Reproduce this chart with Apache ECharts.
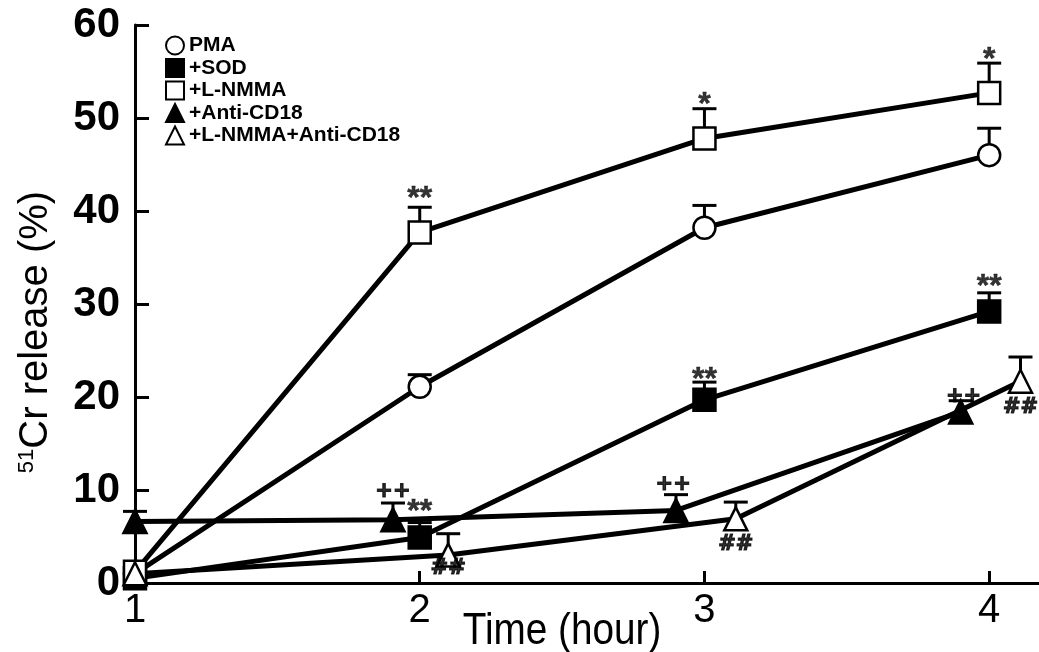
<!DOCTYPE html>
<html><head><meta charset="utf-8">
<script src="https://cdn.jsdelivr.net/npm/echarts@6/dist/echarts.min.js"></script>
<style>html,body{margin:0;padding:0;background:#fff}#c{width:1039px;height:652px}</style>
</head><body><div id="c"></div>
<script>
// ---- data ----
const seriesNames = ['PMA', '+SOD', '+L-NMMA', '+Anti-CD18', '+L-NMMA+Anti-CD18'];
// [time, value, error-bar top]
const pma      = [[1, 1.0, 1.0], [2, 21.1, 22.4], [3, 38.2, 40.6], [4, 46.0, 48.9]];
const sod      = [[1, 0.5, 0.5], [2, 4.9, 6.5], [3, 19.7, 21.6], [4, 29.2, 31.2]];
const lnmma    = [[1, 1.2, 1.2], [2, 37.7, 40.4], [3, 47.8, 51.0], [4, 52.7, 55.9]];
const antiCD18 = [[1, 6.6, 7.7], [1.906, 6.8, 8.6], [2.9, 7.8, 9.5], [3.9, 18.4, 19.6]];
const combo    = [[1, 1.0, 1.0], [2.1, 3.0, 5.3], [3.11, 6.9, 8.7], [4.11, 21.7, 24.3]];
const yTicks = [0, 10, 20, 30, 40, 50, 60];
const xTickLabels = [1, 2, 3, 4];
// significance marks: [time, value, text]
const marks = [
  [2.0, 41.8, '**'], [3.0, 51.9, '*'], [4.0, 56.8, '*'],
  [2.0, 8.2, '**'], [3.0, 22.3, '**'], [4.0, 32.3, '**'],
  [1.906, 9.8, '++'], [2.89, 10.6, '++'], [3.91, 20.1, '++'],
  [2.1, 1.6, '##'], [3.11, 4.1, '##'], [4.11, 18.9, '##']
];

const sets = [pma, sod, lnmma, antiCD18, combo];
const symbols = ['circle', 'rect', 'rect', 'triangle', 'triangle'];
const fills = ['#fff', '#000', '#fff', '#000', '#fff'];
const sizes = [22, 22, 22, 23, 23];

const chart = echarts.init(document.getElementById('c'), null, {renderer: 'canvas'});
const series = [];
sets.forEach((d, i) => {
  series.push({
    name: seriesNames[i], type: 'custom', z: 1,
    data: d.map(p => [p[0], p[1], p[2]]),
    renderItem: function (params, api) {
      const base = api.coord([api.value(0), api.value(1)]);
      const top = api.coord([api.value(0), api.value(2)]);
      if (api.value(2) <= api.value(1)) return {type: 'group', children: []};
      return {type: 'group', children: [
        {type: 'line', shape: {x1: base[0], y1: base[1], x2: top[0], y2: top[1]}, style: {stroke: '#000', lineWidth: 3}},
        {type: 'line', shape: {x1: top[0] - 12, y1: top[1], x2: top[0] + 12, y2: top[1]}, style: {stroke: '#000', lineWidth: 3}}
      ]};
    },
    silent: true, legendHoverLink: false
  });
});
sets.forEach((d, i) => {
  series.push({
    name: seriesNames[i], type: 'line', z: 3,
    data: d.map(p => [p[0], p[1]]),
    symbol: symbols[i], symbolSize: sizes[i],
    showAllSymbol: true,
    lineStyle: {color: '#000', width: 5},
    itemStyle: {color: fills[i], borderColor: '#000', borderWidth: 2.5, opacity: 1},
    animation: false
  });
});
function markLabel(t) {
  const star = t.indexOf('*') >= 0;
  return {show: true, position: 'inside', formatter: t, color: '#000',
    fontSize: star ? 32 : 21, fontWeight: 'bold',
    fontFamily: star ? 'Liberation Sans' : 'DejaVu Sans',
    textBorderColor: '#000', textBorderWidth: star ? 0.5 : 1.2,
    offset: star ? [0, 5] : [0, 0]};
}
series.push({
  type: 'scatter', z: 5, symbolSize: 0,
  data: marks.map(m => ({value: [m[0], m[1]], label: markLabel(m[2])})),
  silent: true
});

const legendIcons = ['circle', 'rect', 'rect', 'triangle', 'triangle'];
chart.setOption({
  animation: false,
  backgroundColor: '#fff',
  grid: {left: 135, right: 0, top: 25, bottom: 69, containLabel: false},
  legend: {
    orient: 'vertical', left: 165, top: 35, padding: 0, itemGap: 1.5, itemWidth: 18, itemHeight: 18,
    textStyle: {fontSize: 21, fontFamily: 'Liberation Sans', color: '#000', fontWeight: 'bold'},
    data: seriesNames.map((n, i) => ({name: n, icon: legendIcons[i],
      itemStyle: {color: fills[i], borderColor: '#000', borderWidth: 2}}))
  },
  xAxis: {
    type: 'value', min: 1, max: 4.175,
    axisLine: {lineStyle: {color: '#000', width: 3}},
    axisTick: {inside: true, length: 12, lineStyle: {color: '#000', width: 3}, customValues: [2, 3, 4]},
    axisLabel: {customValues: xTickLabels, color: '#000', fontSize: 40, margin: 8,
      fontFamily: 'Liberation Sans Narrow, Liberation Sans', formatter: v => String(v)},
    splitLine: {show: false}
  },
  yAxis: {
    type: 'value', min: 0, max: 60, interval: 10,
    axisLine: {lineStyle: {color: '#000', width: 3}},
    axisTick: {inside: true, length: 14, lineStyle: {color: '#000', width: 3}},
    axisLabel: {color: '#000', fontSize: 42, fontWeight: 'bold', margin: 15, fontFamily: 'Liberation Sans',
      customValues: yTicks},
    splitLine: {show: false}
  },
  graphic: [
    {type: 'text', x: 36, y: 332, rotation: Math.PI / 2, style: {
      text: '{s|51}{n|Cr release (%)}', align: 'center', verticalAlign: 'middle',
      rich: {s: {fontSize: 22, fontFamily: 'Liberation Sans', verticalAlign: 'top', padding: [0,0,14,0]},
             n: {fontSize: 40, fontFamily: 'Liberation Sans'}}, fill: '#000'}},
    {type: 'text', x: 562, y: 632, scaleX: 0.88, style: {text: 'Time (hour)', align: 'center', verticalAlign: 'middle',
      fontSize: 44, fontFamily: 'Liberation Sans', fill: '#000'}}
  ],
  series: series
});
</script></body></html>
